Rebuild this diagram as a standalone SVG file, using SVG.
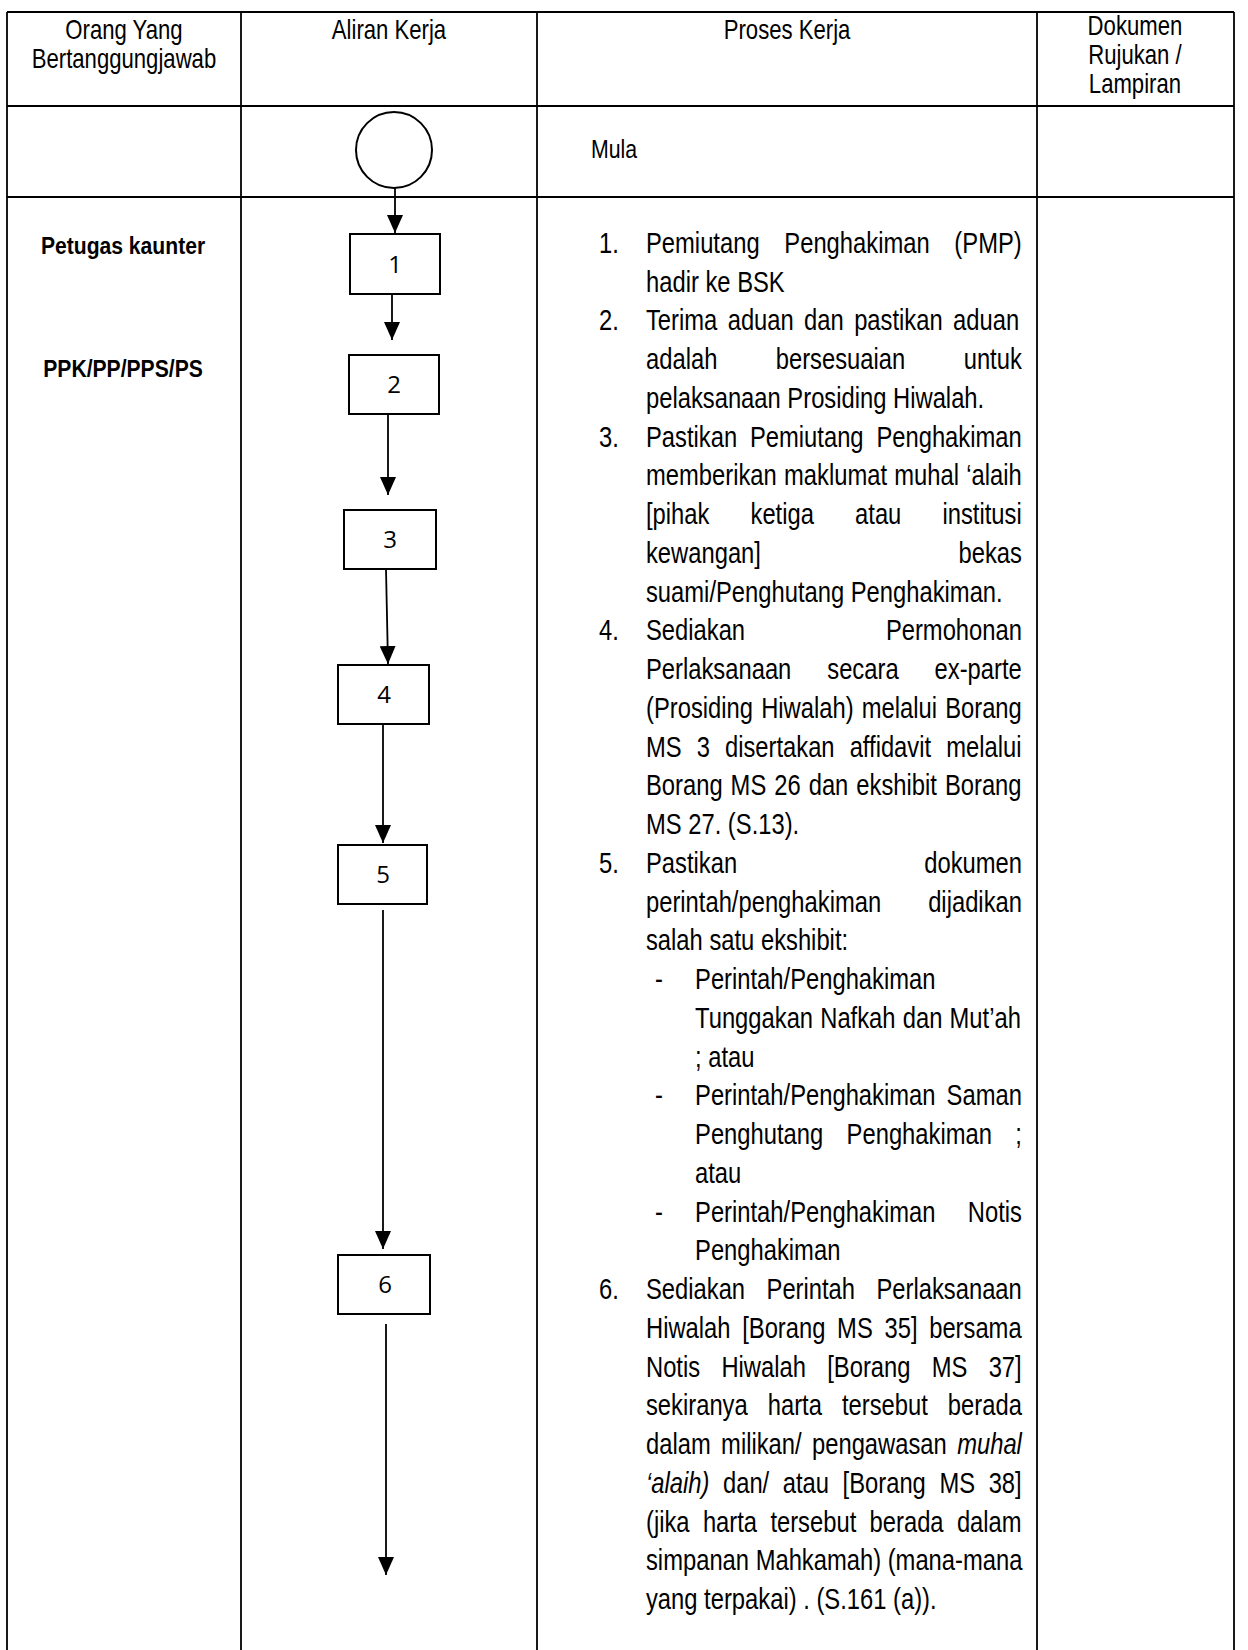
<svg xmlns="http://www.w3.org/2000/svg" width="1248" height="1650" viewBox="0 0 1248 1650">
<style>
.bg{fill:#fff}
.grid{stroke:#000;stroke-width:1.8;fill:none}
.box{fill:#fff;stroke:#000;stroke-width:2}
.circ{fill:#fff;stroke:#000;stroke-width:2}
.con{stroke:#000;stroke-width:1.8;fill:none}
.hd{font-family:"Liberation Sans",Arial,sans-serif;font-size:27px;fill:#000;text-anchor:middle}
.lb{font-family:"Liberation Sans",Arial,sans-serif;font-size:24px;font-weight:bold;fill:#000;text-anchor:middle}
.num{font-family:"Open Sans","Liberation Sans",sans-serif;font-size:24px;fill:#000;text-anchor:middle}
.t{font-family:"Liberation Sans",Arial,sans-serif;font-size:29px;fill:#000}
.r{text-anchor:end}
.i{font-style:italic}
</style>
<defs>
<marker id="ah" markerUnits="userSpaceOnUse" markerWidth="18" markerHeight="16" refX="18" refY="8" orient="auto">
<path d="M0,0 L18,8 L0,16 z" fill="#000"/>
</marker>
</defs>
<rect class="bg" x="0" y="0" width="1248" height="1650"/>

<g id="table">
<line class="grid" x1="7" y1="12" x2="1234" y2="12"/>
<line class="grid" x1="7" y1="12" x2="7" y2="1650"/>
<line class="grid" x1="241" y1="12" x2="241" y2="1650"/>
<line class="grid" x1="537" y1="12" x2="537" y2="1650"/>
<line class="grid" x1="1037" y1="12" x2="1037" y2="1650"/>
<line class="grid" x1="1234" y1="12" x2="1234" y2="1650"/>
<line class="grid" x1="7" y1="106" x2="1234" y2="106"/>
<line class="grid" x1="7" y1="197" x2="1234" y2="197"/>
</g>

<g id="headers" transform="scale(0.82 1)">
<text class="hd" x="151.2" y="39">Orang Yang</text>
<text class="hd" x="151.2" y="68">Bertanggungjawab</text>
<text class="hd" x="474.4" y="39">Aliran Kerja</text>
<text class="hd" x="959.8" y="39">Proses Kerja</text>
<text class="hd" x="1384.1" y="35">Dokumen</text>
<text class="hd" x="1384.1" y="64">Rujukan /</text>
<text class="hd" x="1384.1" y="93">Lampiran</text>
</g>

<g id="roles" transform="scale(0.88 1)">
<text class="lb" x="139.8" y="254">Petugas kaunter</text>
<text class="lb" x="139.8" y="377">PPK/PP/PPS/PS</text>
</g>

<g id="connectors">
<line class="con" x1="395" y1="188" x2="395" y2="233" marker-end="url(#ah)"/>
<line class="con" x1="392" y1="294" x2="392" y2="340" marker-end="url(#ah)"/>
<line class="con" x1="388" y1="414" x2="388" y2="495" marker-end="url(#ah)"/>
<line class="con" x1="386" y1="569" x2="388" y2="664" marker-end="url(#ah)"/>
<line class="con" x1="383" y1="724" x2="383" y2="843" marker-end="url(#ah)"/>
<line class="con" x1="383" y1="910" x2="383" y2="1249" marker-end="url(#ah)"/>
<line class="con" x1="386" y1="1324" x2="386" y2="1575" marker-end="url(#ah)"/>
</g>

<g id="start">
<circle class="circ" cx="394" cy="150" r="38"/>
</g>
<g id="step1"><rect class="box" x="350" y="234" width="90" height="60"/><text class="num" x="395" y="273">1</text></g>
<g id="step2"><rect class="box" x="349" y="355" width="90" height="59"/><text class="num" x="394" y="393">2</text></g>
<g id="step3"><rect class="box" x="344" y="510" width="92" height="59"/><text class="num" x="390" y="548">3</text></g>
<g id="step4"><rect class="box" x="338" y="665" width="91" height="59"/><text class="num" x="384" y="703">4</text></g>
<g id="step5"><rect class="box" x="338" y="845" width="89" height="59"/><text class="num" x="383" y="883">5</text></g>
<g id="step6"><rect class="box" x="338" y="1255" width="92" height="59"/><text class="num" x="385" y="1293">6</text></g>

<g id="process" transform="scale(0.82 1)">
<text class="t" x="720.7" y="158" style="font-size:26px">Mula</text>

<text class="t" x="730.5" y="253">1.</text>
<text class="t" x="787.8" y="253" style="word-spacing:22.1px">Pemiutang Penghakiman (PMP)</text>
<text class="t" x="787.8" y="292">hadir ke BSK</text>

<text class="t" x="730.5" y="330.5">2.</text>
<text class="t" x="787.8" y="330.5" style="word-spacing:4.6px">Terima aduan dan pastikan aduan</text>
<text class="t" x="787.8" y="369.25" style="word-spacing:63.2px">adalah bersesuaian untuk</text>
<text class="t" x="787.8" y="408">pelaksanaan Prosiding Hiwalah.</text>

<text class="t" x="730.5" y="446.75">3.</text>
<text class="t" x="787.8" y="446.75" style="word-spacing:7.6px">Pastikan Pemiutang Penghakiman</text>
<text class="t" x="787.8" y="485.5" style="word-spacing:0.8px">memberikan maklumat muhal ‘alaih</text>
<text class="t" x="787.8" y="524.25" style="word-spacing:42.1px">[pihak ketiga atau institusi</text>
<text class="t" x="787.8" y="563">kewangan]</text>
<text class="t r" x="1246.3" y="563">bekas</text>
<text class="t" x="787.8" y="601.75">suami/Penghutang Penghakiman.</text>

<text class="t" x="730.5" y="640.5">4.</text>
<text class="t" x="787.8" y="640.5">Sediakan</text>
<text class="t r" x="1246.3" y="640.5">Permohonan</text>
<text class="t" x="787.8" y="679.25" style="word-spacing:35.8px">Perlaksanaan secara ex-parte</text>
<text class="t" x="787.8" y="718" style="word-spacing:1.9px">(Prosiding Hiwalah) melalui Borang</text>
<text class="t" x="787.8" y="756.75" style="word-spacing:10.3px">MS 3 disertakan affidavit melalui</text>
<text class="t" x="787.8" y="795.5" style="word-spacing:1.7px">Borang MS 26 dan ekshibit Borang</text>
<text class="t" x="787.8" y="834.25">MS 27. (S.13).</text>

<text class="t" x="730.5" y="873">5.</text>
<text class="t" x="787.8" y="873">Pastikan</text>
<text class="t r" x="1246.3" y="873">dokumen</text>
<text class="t" x="787.8" y="911.75">perintah/penghakiman</text>
<text class="t r" x="1246.3" y="911.75">dijadikan</text>
<text class="t" x="787.8" y="950.5">salah satu ekshibit:</text>

<text class="t" x="798.8" y="989.25">-</text>
<text class="t" x="847.6" y="989.25">Perintah/Penghakiman</text>
<text class="t" x="847.6" y="1028" style="word-spacing:0.7px">Tunggakan Nafkah dan Mut’ah</text>
<text class="t" x="847.6" y="1066.75">; atau</text>
<text class="t" x="798.8" y="1105.5">-</text>
<text class="t" x="847.6" y="1105.5" style="word-spacing:5.5px">Perintah/Penghakiman Saman</text>
<text class="t" x="847.6" y="1144.25" style="word-spacing:20.5px">Penghutang Penghakiman ;</text>
<text class="t" x="847.6" y="1183">atau</text>
<text class="t" x="798.8" y="1221.75">-</text>
<text class="t" x="847.6" y="1221.75">Perintah/Penghakiman</text>
<text class="t r" x="1246.3" y="1221.75">Notis</text>
<text class="t" x="847.6" y="1260.5">Penghakiman</text>

<text class="t" x="730.5" y="1299.25">6.</text>
<text class="t" x="787.8" y="1299.25" style="word-spacing:18.1px">Sediakan Perintah Perlaksanaan</text>
<text class="t" x="787.8" y="1338" style="word-spacing:6.2px">Hiwalah [Borang MS 35] bersama</text>
<text class="t" x="787.8" y="1376.75" style="word-spacing:17.9px">Notis Hiwalah [Borang MS 37]</text>
<text class="t" x="787.8" y="1415.5" style="word-spacing:16.4px">sekiranya harta tersebut berada</text>
<text class="t" x="787.8" y="1454.25" style="word-spacing:4.6px">dalam milikan/ pengawasan <tspan class="i">muhal</tspan></text>
<text class="t" x="787.8" y="1493" style="word-spacing:8.5px"><tspan class="i">‘alaih)</tspan> dan/ atau [Borang MS 38]</text>
<text class="t" x="787.8" y="1531.75" style="word-spacing:8.2px">(jika harta tersebut berada dalam</text>
<text class="t" x="787.8" y="1570.5">simpanan Mahkamah) (mana-mana</text>
<text class="t" x="787.8" y="1609.25">yang terpakai) . (S.161 (a)).</text>
</g>
</svg>
